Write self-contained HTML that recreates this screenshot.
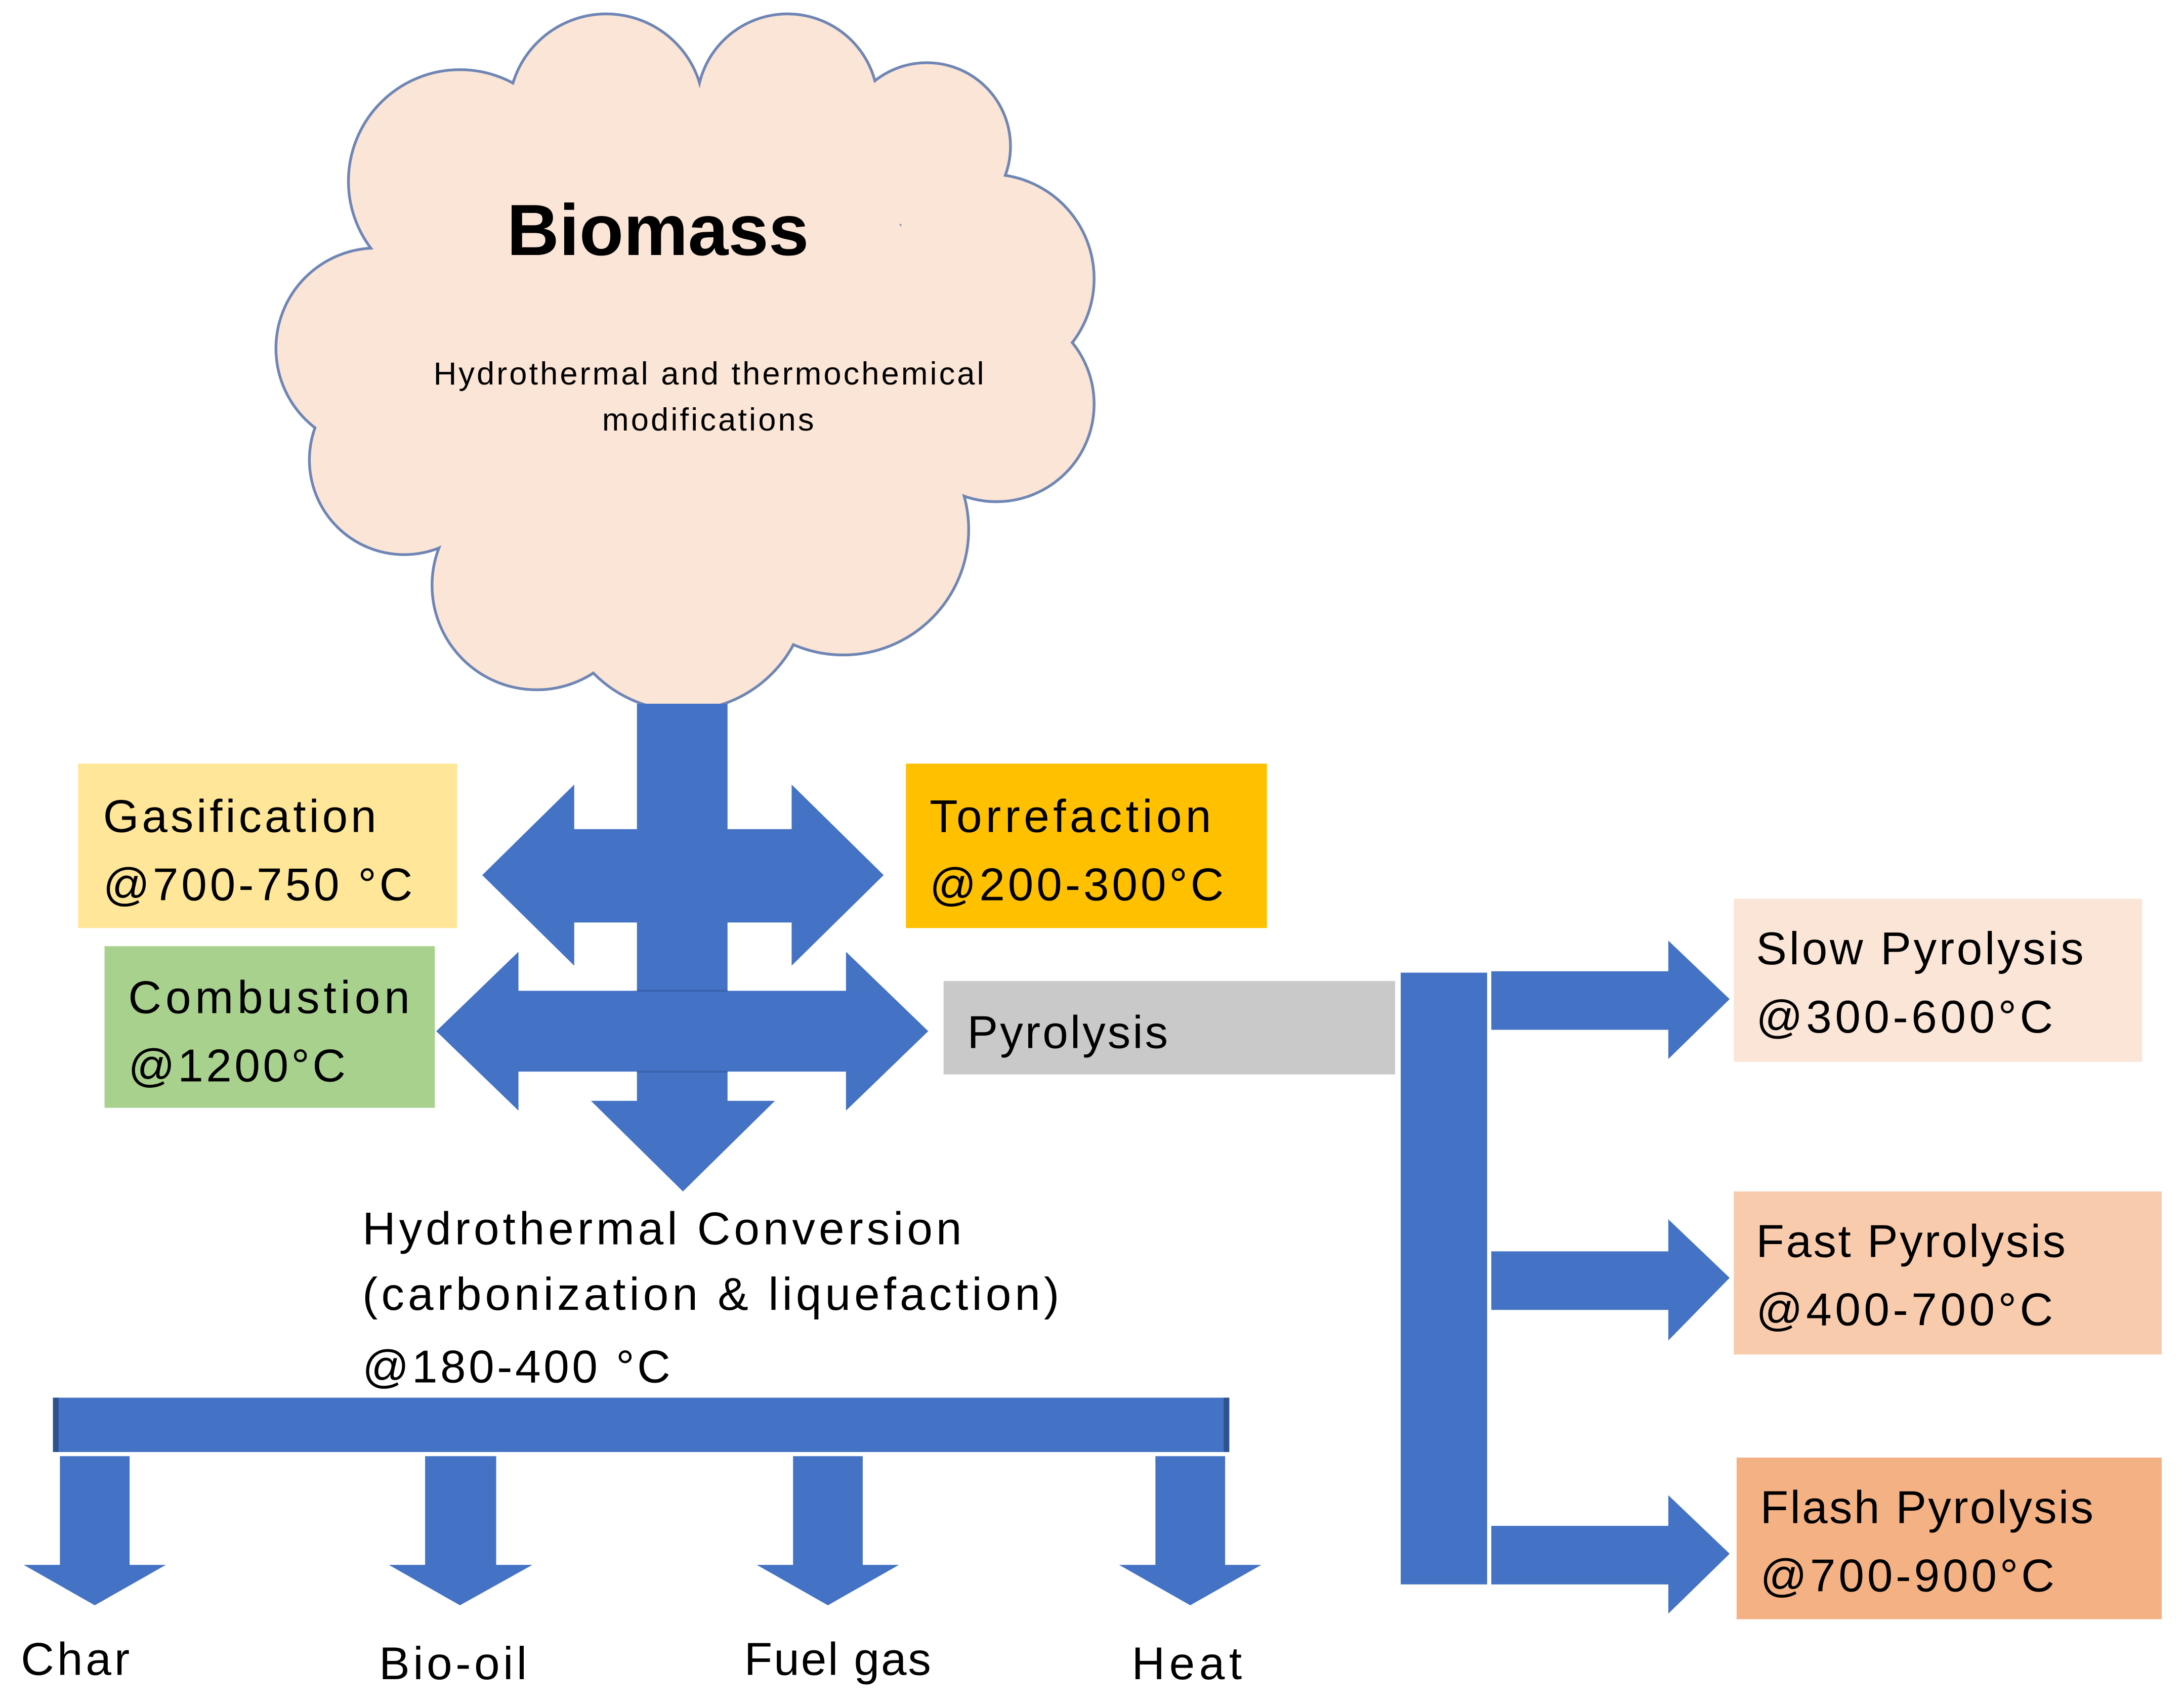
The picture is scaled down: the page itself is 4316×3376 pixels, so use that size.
<!DOCTYPE html>
<html><head><meta charset="utf-8"><style>
html,body{margin:0;padding:0;background:#fff;}
svg{display:block;}
text{font-family:"Liberation Sans",sans-serif;fill:#000;}
</style></head><body>
<svg width="4316" height="3376" viewBox="0 0 1567 1225.7" preserveAspectRatio="none" xmlns="http://www.w3.org/2000/svg">
<rect width="1567" height="1226" fill="#fff"/>
<!-- cloud -->
<g stroke="#6f86b5" stroke-width="2" fill="#fbe5d6">
<circle cx="330" cy="130" r="80"/><circle cx="435" cy="80" r="70"/><circle cx="565" cy="75" r="65"/>
<circle cx="665" cy="105" r="60"/><circle cx="710" cy="200" r="75"/><circle cx="715" cy="290" r="70"/>
<circle cx="270" cy="250" r="72"/><circle cx="290" cy="330" r="68"/><circle cx="385" cy="420" r="75"/>
<circle cx="490" cy="420" r="90"/><circle cx="605" cy="380" r="90"/><circle cx="490" cy="250" r="180"/>
</g>
<g fill="#fbe5d6">
<circle cx="330" cy="130" r="79"/><circle cx="435" cy="80" r="69"/><circle cx="565" cy="75" r="64"/>
<circle cx="665" cy="105" r="59"/><circle cx="710" cy="200" r="74"/><circle cx="715" cy="290" r="69"/>
<circle cx="270" cy="250" r="71"/><circle cx="290" cy="330" r="67"/><circle cx="385" cy="420" r="74"/>
<circle cx="490" cy="420" r="89"/><circle cx="605" cy="380" r="89"/><circle cx="490" cy="250" r="179"/>
</g>
<text x="472" y="183" font-size="52" font-weight="bold" text-anchor="middle">Biomass</text>
<text x="311" y="276" font-size="23" textLength="395">Hydrothermal and thermochemical</text>
<text x="432" y="309" font-size="23" textLength="152">modifications</text>

<g fill="#4472c4">
<rect x="457" y="505" width="65" height="290"/>
<polygon points="424,790 556,790 490,855"/>
<polygon points="346,628 412,563 412,595 568,595 568,563 634,628 568,693 568,662 412,662 412,693"/>
<polygon points="313,740 372,683 372,711 607,711 607,683 666,740 607,797 607,769 372,769 372,797"/>
<rect x="1005" y="698" width="62" height="439"/>
<polygon points="1070,697 1197,697 1197,675 1241,717 1197,760 1197,739 1070,739"/>
<polygon points="1070,898 1197,898 1197,875 1241,917 1197,962 1197,940 1070,940"/>
<polygon points="1070,1095 1197,1095 1197,1073 1241,1115 1197,1158 1197,1137 1070,1137"/>
<rect x="38" y="1003" width="844" height="39"/>
<polygon points="43,1045 93,1045 93,1123 119,1123 68,1152 17,1123 43,1123"/>
<polygon points="305,1045 356,1045 356,1123 382,1123 330,1152 279,1123 305,1123"/>
<polygon points="569,1045 619,1045 619,1123 645,1123 594,1152 543,1123 569,1123"/>
<polygon points="829,1045 879,1045 879,1123 905,1123 854,1152 803,1123 829,1123"/>
</g>
<rect x="38" y="1003" width="4" height="39" fill="#2f528f"/>
<rect x="878" y="1003" width="4" height="39" fill="#2f528f"/>
<line x1="457" y1="711" x2="522" y2="711" stroke="#3a64b0" stroke-width="1.5"/>
<line x1="457" y1="769" x2="522" y2="769" stroke="#3a64b0" stroke-width="1.5"/>

<rect x="56" y="548" width="272" height="118" fill="#ffe699"/>
<rect x="650" y="548" width="259" height="118" fill="#ffc000"/>
<rect x="75" y="679" width="237" height="116" fill="#a9d18e"/>
<rect x="677" y="704" width="324" height="67" fill="#c9c9c9"/>
<rect x="1244" y="645" width="293" height="117" fill="#fbe5d6"/>
<rect x="1244" y="855" width="307" height="117" fill="#f8cbad"/>
<rect x="1246" y="1046" width="305" height="116" fill="#f4b183"/>

<g font-size="33">
<text x="74" y="597" textLength="196">Gasification</text>
<text x="74" y="646" textLength="222">@700-750 °C</text>
<text x="667" y="597" textLength="202">Torrefaction</text>
<text x="667" y="646" textLength="211">@200-300°C</text>
<text x="92" y="727" textLength="202">Combustion</text>
<text x="92" y="776" textLength="156">@1200°C</text>
<text x="694" y="752" textLength="144">Pyrolysis</text>
<text x="1260" y="692" textLength="235">Slow Pyrolysis</text>
<text x="1260" y="741" textLength="213">@300-600°C</text>
<text x="1260" y="902" textLength="222">Fast Pyrolysis</text>
<text x="1260" y="951" textLength="213">@400-700°C</text>
<text x="1263" y="1093" textLength="239">Flash Pyrolysis</text>
<text x="1263" y="1142" textLength="211">@700-900°C</text>
<text x="260" y="893" textLength="430">Hydrothermal Conversion</text>
<text x="260" y="940" textLength="500">(carbonization &amp; liquefaction)</text>
<text x="260" y="992" textLength="221">@180-400 °C</text>
<text x="15" y="1202" textLength="78">Char</text>
<text x="272" y="1205" textLength="106">Bio-oil</text>
<text x="534" y="1202" textLength="134">Fuel gas</text>
<text x="812" y="1205" textLength="79">Heat</text>
</g>
</svg>
</body></html>
